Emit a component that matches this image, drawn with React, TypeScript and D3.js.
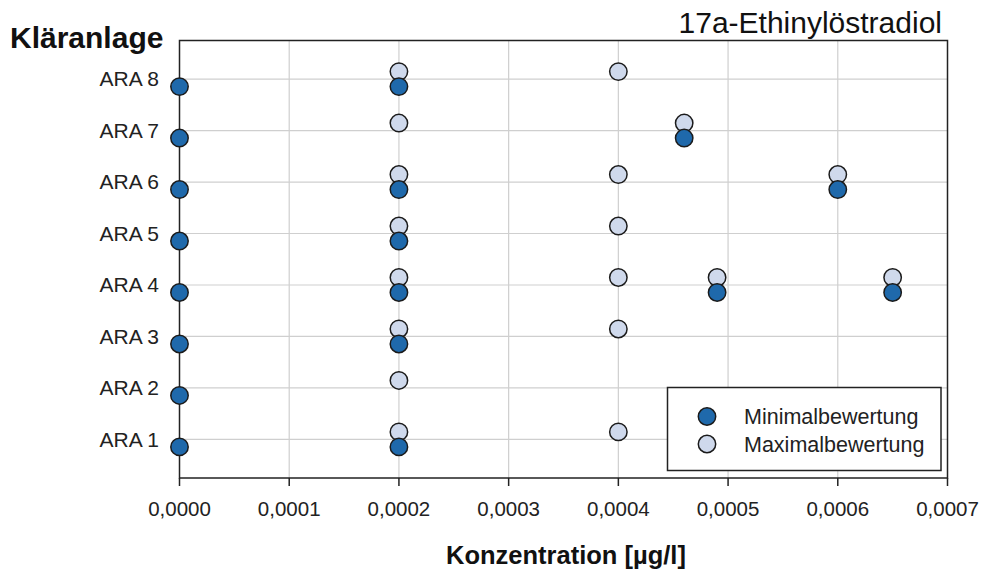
import React from "react";
import * as d3 from "d3";

const categories = ["ARA 1", "ARA 2", "ARA 3", "ARA 4", "ARA 5", "ARA 6", "ARA 7", "ARA 8"];
// [category index (1-based), value]
const minValues: [number, number][] = [
  [8, 0], [8, 0.0002],
  [7, 0], [7, 0.00046],
  [6, 0], [6, 0.0002], [6, 0.0006],
  [5, 0], [5, 0.0002],
  [4, 0], [4, 0.0002], [4, 0.00049], [4, 0.00065],
  [3, 0], [3, 0.0002],
  [2, 0],
  [1, 0], [1, 0.0002],
];
const maxValues: [number, number][] = [
  [8, 0.0002], [8, 0.0004],
  [7, 0.0002], [7, 0.00046],
  [6, 0.0002], [6, 0.0004], [6, 0.0006],
  [5, 0.0002], [5, 0.0004],
  [4, 0.0002], [4, 0.0004], [4, 0.00049], [4, 0.00065],
  [3, 0.0002], [3, 0.0004],
  [2, 0.0002],
  [1, 0.0002], [1, 0.0004],
];
const xTicks = [0, 0.0001, 0.0002, 0.0003, 0.0004, 0.0005, 0.0006, 0.0007];
const seriesNames = ["Minimalbewertung", "Maximalbewertung"];
const title = "17a-Ethinylöstradiol";
const yTitle = "Kläranlage";
const xTitle = "Konzentration [µg/l]";

const W = 985, H = 575;
const left = 179.5, right = 947.5, top = 40.5, bottom = 478;
const MIN_COLOR = "#1f69ab";
const MAX_COLOR = "#cfd9ec";
const STROKE = "#1b1b1b";
const FONT = "'Liberation Sans', Arial, sans-serif";

export default function App() {
  const x = d3.scaleLinear().domain([0, 0.0007]).range([left, right]);
  const y = d3.scaleLinear().domain([0.25, 8.75]).range([bottom, top]);
  const fmt = (v: number) => v.toFixed(4).replace(".", ",");
  const r = 8.7;
  const off = 7.5;
  return (
    <svg width={W} height={H} style={{ position: "fixed", left: 0, top: 0, background: "#fff" }} fontFamily={FONT}>
      <rect x={0} y={0} width={W} height={H} fill="#fff" />
      {/* grid */}
      {xTicks.slice(1, -1).map((t) => (
        <line key={"gx" + t} x1={x(t)} x2={x(t)} y1={top} y2={bottom} stroke="#cfcfcf" strokeWidth={1.2} />
      ))}
      {categories.map((c, i) => (
        <line key={"gy" + c} x1={left} x2={right} y1={y(i + 1)} y2={y(i + 1)} stroke="#cfcfcf" strokeWidth={1.2} />
      ))}
      {/* frame */}
      <rect x={left} y={top} width={right - left} height={bottom - top} fill="none" stroke="#222" strokeWidth={1.5} />
      {/* x ticks */}
      {xTicks.map((t) => (
        <g key={"tx" + t}>
          <line x1={x(t)} x2={x(t)} y1={bottom} y2={bottom + 8} stroke="#222" strokeWidth={1.5} />
          <text x={x(t)} y={516} textAnchor="middle" fontSize={20.5} fill="#222">{fmt(t)}</text>
        </g>
      ))}
      {/* y labels */}
      {categories.map((c, i) => (
        <text key={"ty" + c} x={159} y={y(i + 1)} dy="0.35em" textAnchor="end" fontSize={21} fill="#222">{c}</text>
      ))}
      {/* points */}
      {maxValues.map(([c, v], i) => (
        <circle key={"mx" + i} cx={x(v)} cy={y(c) - off} r={r} fill={MAX_COLOR} stroke={STROKE} strokeWidth={1.5} />
      ))}
      {minValues.map(([c, v], i) => (
        <circle key={"mn" + i} cx={x(v)} cy={y(c) + off} r={r} fill={MIN_COLOR} stroke={STROKE} strokeWidth={1.5} />
      ))}
      {/* legend */}
      <rect x={667.5} y={387.5} width={273.5} height={83} fill="#fff" stroke="#222" strokeWidth={1.5} />
      <circle cx={707} cy={416.5} r={r} fill={MIN_COLOR} stroke={STROKE} strokeWidth={1.5} />
      <circle cx={707} cy={444} r={r} fill={MAX_COLOR} stroke={STROKE} strokeWidth={1.5} />
      <text x={744} y={416.5} dy="0.35em" fontSize={21.5} fill="#222">{seriesNames[0]}</text>
      <text x={744} y={444} dy="0.35em" fontSize={21.5} fill="#222">{seriesNames[1]}</text>
      {/* titles */}
      <text x={942} y={33} textAnchor="end" fontSize={30} fill="#111">{title}</text>
      <text x={10} y={48} fontSize={30} fontWeight="bold" fill="#111">{yTitle}</text>
      <text x={566} y={564} textAnchor="middle" fontSize={25.5} fontWeight="bold" fill="#111">{xTitle}</text>
    </svg>
  );
}
